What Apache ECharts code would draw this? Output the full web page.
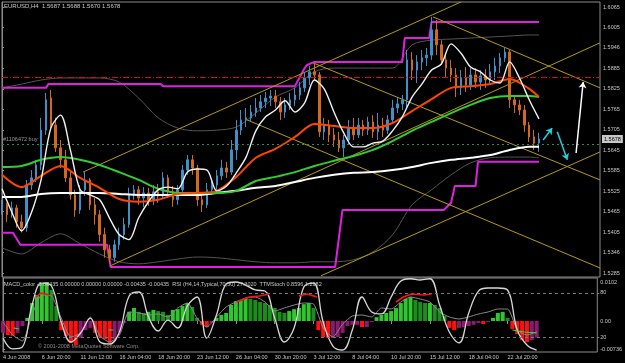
<!DOCTYPE html>
<html>
<head>
<meta charset="utf-8">
<title>EURUSD,H4</title>
<script src="https://cdn.jsdelivr.net/npm/echarts@6.0.0/dist/echarts.min.js"></script>
<style>
  html, body { margin: 0; padding: 0; background: #000; }
  #chart { width: 625px; height: 363px; }
</style>
</head>
<body>
<div id="chart"></div>
<script>
// one candle every 2 H4 bars, x = bar number from 4 Jun 2008 00:00
const opens = [1.5470,1.5485,1.5456,1.5476,1.5435,1.5418,1.5543,1.5564,1.5602,1.5704,
  1.5798,1.5719,1.5652,1.5617,1.5564,1.5514,1.5470,1.5529,1.5558,1.5485,
  1.5456,1.5398,1.5353,1.5330,1.5368,1.5398,1.5427,1.5514,1.5529,1.5505,
  1.5520,1.5500,1.5523,1.5511,1.5564,1.5523,1.5500,1.5529,1.5587,1.5617,
  1.5593,1.5500,1.5485,1.5529,1.5543,1.5570,1.5593,1.5581,1.5646,1.5704,
  1.5734,1.5740,1.5757,1.5769,1.5787,1.5798,1.5804,1.5787,1.5757,1.5778,
  1.5793,1.5807,1.5828,1.5857,1.5875,1.5866,1.5699,1.5719,1.5690,1.5675,
  1.5652,1.5675,1.5710,1.5690,1.5719,1.5704,1.5728,1.5699,1.5719,1.5704,
  1.5734,1.5769,1.5781,1.5793,1.5910,1.5880,1.5904,1.5916,1.5924,1.5998,
  1.5954,1.5910,1.5886,1.5866,1.5828,1.5857,1.5836,1.5866,1.5845,1.5863,
  1.5851,1.5875,1.5892,1.5916,1.5933,1.5793,1.5778,1.5763,1.5719,1.5684,1.5666];
const closes = [1.5485,1.5456,1.5476,1.5435,1.5418,1.5543,1.5564,1.5602,1.5704,1.5793,
  1.5719,1.5652,1.5617,1.5564,1.5514,1.5470,1.5529,1.5558,1.5485,1.5456,
  1.5398,1.5353,1.5330,1.5368,1.5398,1.5427,1.5514,1.5529,1.5505,1.5520,
  1.5500,1.5523,1.5511,1.5564,1.5523,1.5500,1.5529,1.5587,1.5617,1.5593,
  1.5500,1.5485,1.5529,1.5543,1.5570,1.5593,1.5581,1.5646,1.5704,1.5734,
  1.5740,1.5757,1.5769,1.5787,1.5798,1.5804,1.5787,1.5757,1.5778,1.5793,
  1.5807,1.5828,1.5857,1.5875,1.5866,1.5699,1.5719,1.5690,1.5675,1.5652,
  1.5675,1.5710,1.5690,1.5719,1.5704,1.5728,1.5699,1.5719,1.5704,1.5734,
  1.5769,1.5781,1.5793,1.5910,1.5880,1.5904,1.5916,1.5924,1.5998,1.5954,
  1.5910,1.5886,1.5866,1.5828,1.5857,1.5836,1.5866,1.5845,1.5863,1.5851,
  1.5875,1.5892,1.5916,1.5933,1.5793,1.5778,1.5763,1.5719,1.5684,1.5666,1.5678];
const lows = [1.5456,1.5435,1.5447,1.5418,1.5404,1.5406,1.5529,1.5552,1.5587,1.5690,
  1.5710,1.5640,1.5593,1.5552,1.5500,1.5450,1.5459,1.5511,1.5470,1.5427,
  1.5377,1.5330,1.5312,1.5318,1.5353,1.5383,1.5418,1.5500,1.5485,1.5479,
  1.5482,1.5485,1.5491,1.5505,1.5505,1.5479,1.5485,1.5517,1.5573,1.5573,
  1.5482,1.5464,1.5476,1.5514,1.5529,1.5558,1.5564,1.5573,1.5617,1.5690,
  1.5713,1.5728,1.5743,1.5757,1.5769,1.5775,1.5769,1.5734,1.5740,1.5763,
  1.5775,1.5793,1.5816,1.5836,1.5851,1.5684,1.5675,1.5669,1.5655,1.5640,
  1.5625,1.5660,1.5675,1.5681,1.5687,1.5690,1.5681,1.5675,1.5684,1.5693,
  1.5722,1.5754,1.5763,1.5772,1.5851,1.5842,1.5880,1.5892,1.5910,1.5924,
  1.5895,1.5860,1.5845,1.5801,1.5807,1.5816,1.5822,1.5828,1.5822,1.5828,
  1.5836,1.5851,1.5872,1.5904,1.5769,1.5754,1.5748,1.5699,1.5669,1.5646,1.5640];
const highs = [1.5500,1.5491,1.5494,1.5485,1.5456,1.5558,1.5587,1.5617,1.5740,1.5813,
  1.5822,1.5740,1.5675,1.5646,1.5581,1.5529,1.5543,1.5581,1.5564,1.5505,
  1.5470,1.5418,1.5368,1.5383,1.5418,1.5447,1.5535,1.5543,1.5540,1.5537,
  1.5535,1.5543,1.5546,1.5581,1.5573,1.5540,1.5543,1.5602,1.5631,1.5631,
  1.5602,1.5514,1.5549,1.5558,1.5587,1.5617,1.5611,1.5675,1.5734,1.5763,
  1.5769,1.5778,1.5798,1.5807,1.5816,1.5822,1.5822,1.5801,1.5798,1.5813,
  1.5828,1.5845,1.5875,1.5892,1.5901,1.5875,1.5740,1.5734,1.5710,1.5699,
  1.5690,1.5734,1.5740,1.5740,1.5734,1.5743,1.5748,1.5754,1.5740,1.5748,
  1.5793,1.5801,1.5807,1.5939,1.5933,1.5924,1.5939,1.5945,1.6036,1.6027,
  1.5968,1.5930,1.5910,1.5886,1.5880,1.5889,1.5886,1.5886,1.5880,1.5883,
  1.5898,1.5916,1.5930,1.5945,1.5939,1.5807,1.5793,1.5778,1.5728,1.5704,1.5696];
const candleStep = 2;

// moving averages / bands sampled on these bars
const slowBars = [0,8,16,24,32,40,48,56,64,72,80,88,96,104,112,120,128,136,144,152,160,168,176,184,192,200,208,216,220];
const maRed = [1.5573,1.5537,1.5570,1.5599,1.5564,1.5535,1.5502,1.5494,1.5500,1.5517,1.5520,1.5526,1.5567,1.5623,1.5649,
  1.5684,1.5722,1.5716,1.5710,1.5710,1.5725,1.5760,1.5795,1.5828,1.5833,1.5839,1.5854,1.5825,1.5801];
const maGreen = [1.5596,1.5599,1.5617,1.5625,1.5617,1.5602,1.5581,1.5558,1.5532,1.5520,1.5520,1.5520,1.5526,1.5555,1.5567,
  1.5581,1.5599,1.5614,1.5628,1.5646,1.5672,1.5702,1.5728,1.5754,1.5778,1.5798,1.5804,1.5804,1.5801];
const maWhite = [1.5508,1.5508,1.5517,1.5520,1.5520,1.5520,1.5517,1.5514,1.5514,1.5514,1.5514,1.5520,1.5526,1.5535,1.5540,
  1.5552,1.5564,1.5573,1.5579,1.5581,1.5587,1.5596,1.5608,1.5617,1.5623,1.5631,1.5646,1.5655,1.5655];
const bandUpper = [1.5828,1.5839,1.5851,1.5857,1.5857,1.5857,1.5845,1.5798,1.5740,1.5710,1.5702,1.5704,1.5713,1.5754,1.5801,
  1.5828,1.5875,1.5886,1.5886,1.5886,1.5886,1.5954,1.5968,1.5971,1.5974,1.5977,1.5980,1.5983,1.5983];
const bandLower = [1.5359,1.5341,1.5374,1.5400,1.5371,1.5341,1.5318,1.5312,1.5318,1.5326,1.5332,1.5330,1.5324,1.5318,1.5315,
  1.5315,1.5318,1.5318,1.5324,1.5347,1.5397,1.5485,1.5529,1.5573,1.5608,1.5623,1.5625,1.5625,1.5623];

// fast line, oscillators: one value every 4 bars
const fastStep = 4;
const fastLine = [1.5532,1.5464,1.5409,1.5461,1.5558,1.5710,1.5748,1.5646,1.5529,1.5514,
  1.5500,1.5447,1.5398,1.5383,1.5447,1.5494,1.5529,1.5537,1.5532,1.5581,
  1.5590,1.5587,1.5526,1.5540,1.5579,1.5625,1.5702,1.5743,1.5763,1.5790,
  1.5757,1.5784,1.5851,1.5825,1.5757,1.5696,1.5655,1.5655,1.5666,1.5672,
  1.5702,1.5743,1.5801,1.5839,1.5880,1.5898,1.5957,1.5930,1.5889,1.5875,
  1.5851,1.5842,1.5904,1.5857,1.5793,1.5737];

// price channel (step lines), [bar, price]
const channelUpper = [[0,1.5828],[18,1.5828],[19,1.5839],[65,1.5839],[66,1.5833],[120,1.5833],[124,1.5886],[125,1.5895],
  [128,1.5904],[164,1.5904],[165,1.5974],[175,1.5974],[176,1.6021],[220,1.6021]];
const channelLower = [[0,1.5403],[4.5,1.5403],[7.5,1.5368],[43,1.5368],[44.5,1.5303],[136.5,1.5303],[139.5,1.5470],
  [181,1.5470],[184,1.5491],[185.5,1.5540],[194,1.5540],[195,1.5611],[220,1.5611]];

// trend lines: [bar1, price1, bar2, price2]
const trendLines = [
  [33.2, 1.5581, 188.1, 1.6080],
  [44.3, 1.5306, 245, 1.5960],
  [127.5, 1.5901, 245, 1.5558],
  [176.6, 1.6036, 245, 1.5828],
  [100.4, 1.5734, 245, 1.5300],
  [130.7, 1.5277, 245, 1.5640]
];
const cyanArrows = [[221.7, 1.5675, 225.4, 1.5710], [227.5, 1.5699, 231.6, 1.5617]];
const whiteArrow = [235.2, 1.5637, 238.1, 1.5845];

const redLevel = 1.5860;
const orderLevel = 1.5664;
const lastClose = 1.5678;

const macd = [-0.0031,-0.0037,-0.0039,-0.0031,-0.0013,0.0008,0.0047,0.0068,0.0097,0.0102,
  0.0081,0.0039,-0.0024,-0.0039,-0.0058,-0.0063,-0.0044,-0.0024,-0.0018,-0.0031,
  -0.0042,-0.0047,-0.0058,-0.0047,-0.0029,-0.0005,0.0024,0.0034,0.0024,0.0021,
  0.0024,0.0029,0.0026,0.0024,0.0016,0.0029,0.0031,0.0039,0.0047,0.0037,
  0.0008,-0.0010,-0.0016,-0.0005,0.0008,0.0016,0.0021,0.0042,0.0052,0.0055,
  0.0060,0.0058,0.0055,0.0050,0.0047,0.0042,0.0034,0.0024,0.0021,0.0026,
  0.0031,0.0034,0.0044,0.0047,0.0034,-0.0024,-0.0042,-0.0044,-0.0044,-0.0042,
  -0.0031,-0.0013,-0.0010,-0.0010,-0.0016,-0.0016,-0.0003,0.0010,0.0016,0.0021,
  0.0026,0.0034,0.0047,0.0058,0.0063,0.0055,0.0050,0.0047,0.0047,0.0042,
  0.0034,0.0013,-0.0018,-0.0024,-0.0018,-0.0016,-0.0013,-0.0010,-0.0005,-0.0008,
  -0.0003,0.0008,0.0021,0.0024,0.0008,-0.0021,-0.0034,-0.0050,-0.0055,-0.0050,-0.00435];
const ttmStoch = [18.9,4.1,6.8,63.5,93.2,89.2,40.5,13.5,25.7,45.9,
  13.5,10.8,27.0,75.7,81.1,47.3,28.4,43.2,32.4,62.2,
  74.3,18.9,50.0,91.9,94.6,90.5,83.8,82.4,45.9,13.5,
  32.4,87.8,93.2,40.5,8.1,2.7,29.7,74.3,54.1,51.4,
  74.3,95.9,99,97.3,99,63.5,27.0,12.2,52.7,82.4,
  86.5,86.5,83.8,29.7,9.5,2.7];
const rsi = [40.5,23.0,14.9,50.0,77.0,75.7,45.9,20.3,25.7,47.3,
  21.6,13.5,23.0,54.1,52.7,50.0,51.4,47.3,59.5,66.2,
  45.9,33.8,47.3,60.8,67.6,73.0,74.3,67.6,55.4,59.5,
  63.5,66.2,64.9,32.4,20.3,37.8,48.6,50.0,47.3,59.5,
  58.1,67.6,74.3,71.6,67.6,54.1,47.3,44.6,47.3,51.4,
  54.1,58.1,58.1,29.7,23.0,27.3];
const signalRed = [
  [[13.5,74.3],[15.6,79.7],[18.9,77.0]],
  [[96.3,67.6],[101.6,74.3],[105.7,75.7],[109.8,78.4]],
  [[122,75.7],[125.4,78.4],[129.5,74.3]],
  [[162,67.6],[165,74.3],[168.4,78.4],[173.4,77.0],[176.6,78.4]]
];
const signalGreen = [
  [[4.5,32.4],[6.5,31.1]],
  [[43.5,29.7],[45.5,29.7]],
  [[210,29.7],[215,27.0],[220,25.7]]
];

const priceTicks = [1.6065,1.6005,1.5946,1.5885,1.5825,1.5765,1.5705,1.5645,1.5585,1.5525,1.5465,1.5405,1.5346,1.5285];
const macdTicks = [0.0102, 0, -0.00736];
const macdTickText = ['0.0102', '0.00', '-0.00736'];
const rsiTicks = [80, 20];
const timeTickBars = [0,16,32,48,64,80,96,112,128,144,160,176,192,208];
const timeLabels = ['4 Jun 2008','6 Jun 20:00','11 Jun 12:00','16 Jun 04:00','18 Jun 20:00','23 Jun 12:00','26 Jun 04:00',
  '30 Jun 20:00','3 Jul 12:00','8 Jul 04:00','10 Jul 20:00','15 Jul 12:00','18 Jul 04:00','22 Jul 20:00'];

const txt = '#c8c8c8';
const font = 'Liberation Sans';
const frame = '#8c8c8c';

const chart = echarts.init(document.getElementById('chart'), null, { renderer: 'canvas' });

const candleData = opens.map((o, i) => [i * candleStep, o, closes[i], lows[i], highs[i]]);
const onSlow = arr => arr.map((v, i) => [slowBars[i], v]);
const onFast = arr => arr.map((v, i) => [i * fastStep, v]);

const mainLine = (data, color, width, z, smooth) => ({
  type: 'line', xAxisIndex: 0, yAxisIndex: 0, data, showSymbol: false, smooth: smooth || 0,
  lineStyle: { color, width }, z, silent: true
});

const series = [];
series.push(mainLine(onSlow(bandUpper), '#555', 1, 1, 0.3));
series.push(mainLine(onSlow(bandLower), '#555', 1, 1, 0.3));
series.push(mainLine(channelUpper, '#e020e0', 2, 2));
series.push(mainLine(channelLower, '#e020e0', 2, 2));
trendLines.forEach(t => series.push(mainLine([[t[0], t[1]], [t[2], t[3]]], '#b89a10', 1, 2)));

series.push({
  type: 'candlestick', xAxisIndex: 0, yAxisIndex: 0, data: candleData, barWidth: 2, z: 3,
  itemStyle: { color: '#3d91c8', color0: '#d2691e', borderColor: '#3d91c8', borderColor0: '#d2691e', borderWidth: 1 },
  markLine: {
    silent: true, symbol: ['none', 'none'], animation: false, precision: 4,
    data: [
      { yAxis: orderLevel, lineStyle: { color: '#2e8b57', type: [2, 3], width: 1 },
        label: { show: true, position: 'insideStartTop', formatter: '#1106472 buy', color: '#9a9a9a',
          fontSize: 5.5, fontFamily: font, distance: 1 } },
      { yAxis: redLevel, lineStyle: { color: '#cc1010', type: [6, 2, 1, 2], width: 1 }, label: { show: false } },
      { yAxis: lastClose, lineStyle: { color: 'rgba(0,0,0,0)', width: 1 },
        label: { show: true, position: 'end', formatter: lastClose.toFixed(4), backgroundColor: '#c8c8c8',
          color: '#000', padding: [1, 2], fontSize: 5.5, fontFamily: font, distance: 2 } }
    ]
  }
});

series.push(mainLine(onSlow(maWhite), '#ffffff', 2, 4, 0.3));
series.push(mainLine(onSlow(maGreen), '#32cd32', 2, 4, 0.3));
series.push(mainLine(onSlow(maRed), '#ff4500', 2, 4, 0.3));
series.push(mainLine(onFast(fastLine), '#f2f2f2', 1.4, 5, 0.3));

const arrow = (a, color) => ({
  type: 'lines', coordinateSystem: 'cartesian2d', xAxisIndex: 0, yAxisIndex: 0, z: 6,
  symbol: ['none', 'arrow'], symbolSize: [0, 6], silent: true,
  lineStyle: { color, width: 1.5, opacity: 1 },
  data: [{ coords: [[a[0], a[1]], [a[2], a[3]]] }]
});
cyanArrows.forEach(a => series.push(arrow(a, '#20d0e0')));
series.push(arrow(whiteArrow, '#ffffff'));

// MACD histogram
series.push({
  type: 'bar', xAxisIndex: 1, yAxisIndex: 1, barWidth: 4, z: 2, silent: true,
  data: macd.map((v, i) => {
    const up = i === 0 || v >= macd[i - 1];
    const color = v >= 0 ? (up ? '#2ec82e' : '#1c8c1c') : (up ? '#8a1a70' : '#ff1010');
    return { value: [i * candleStep, v], itemStyle: { color } };
  })
});

series.push({
  type: 'line', xAxisIndex: 1, yAxisIndex: 2, data: onFast(rsi), showSymbol: false, smooth: 0.2,
  lineStyle: { color: '#8a8a8a', width: 1 }, z: 3, silent: true,
  markLine: {
    silent: true, symbol: ['none', 'none'], animation: false, label: { show: false },
    lineStyle: { color: '#7a7a7a', type: [3, 3], width: 1 },
    data: rsiTicks.map(v => ({ yAxis: v }))
  }
});
series.push({
  type: 'line', xAxisIndex: 1, yAxisIndex: 2, data: onFast(ttmStoch), showSymbol: false, smooth: 0.4,
  lineStyle: { color: '#d8d8d8', width: 1.3 }, z: 4, silent: true
});
signalRed.forEach(s => series.push({
  type: 'line', xAxisIndex: 1, yAxisIndex: 2, data: s, showSymbol: false,
  lineStyle: { color: '#ff1010', width: 1.6 }, z: 5, silent: true
}));
signalGreen.forEach(s => series.push({
  type: 'line', xAxisIndex: 1, yAxisIndex: 2, data: s, showSymbol: false,
  lineStyle: { color: '#30e030', width: 1.2 }, z: 5, silent: true
}));

const labelStyle = { color: txt, fontSize: 5.5, fontFamily: font };

chart.setOption({
  animation: false,
  backgroundColor: '#000',
  title: {
    text: 'EURUSD,H4  1.5687 1.5688 1.5670 1.5678', left: 4, top: 3, padding: 0,
    textStyle: { color: txt, fontSize: 6, fontWeight: 'normal', fontFamily: font }
  },
  graphic: [
    { type: 'text', left: 4, top: 281, z: 10, style: {
      text: 'MACD_color -0.00435 0.00000 0.00000 0.00000 -0.00435 -0.00435  RSI (H4,14,Typical,70,30) 27.3020  TTMStoch 0.8596 1.2982',
      fill: txt, fontSize: 5.5, fontFamily: font } },
    { type: 'text', left: 38, top: 343, z: 0, style: {
      text: '\u00a9 2001-2008 MetaQuotes Software Corp.', fill: '#8c8c8c', fontSize: 5.5, fontFamily: font } }
  ],
  grid: [
    { left: 2, right: 25, top: 2, height: 275, show: true, borderColor: frame, borderWidth: 1 },
    { left: 2, right: 25, top: 278, height: 74, show: true, borderColor: frame, borderWidth: 1 }
  ],
  xAxis: [
    { gridIndex: 0, type: 'value', min: 0, max: 245, show: false },
    { gridIndex: 1, type: 'value', min: 0, max: 245,
      axisLine: { show: false }, splitLine: { show: false },
      axisTick: { show: true, customValues: timeTickBars, length: 3, lineStyle: { color: frame } },
      axisLabel: { customValues: timeTickBars, formatter: v => timeLabels[timeTickBars.indexOf(v)],
        align: 'left', margin: 2, ...labelStyle } }
  ],
  yAxis: [
    { gridIndex: 0, type: 'value', position: 'right', min: 1.52734, max: 1.60797,
      axisLine: { show: true, lineStyle: { color: frame } }, splitLine: { show: false },
      axisTick: { show: true, customValues: priceTicks, length: 2, lineStyle: { color: frame } },
      axisLabel: { customValues: priceTicks, formatter: v => v.toFixed(4), margin: 3, ...labelStyle } },
    { gridIndex: 1, type: 'value', position: 'right', min: -0.008107, max: 0.011246,
      axisLine: { show: true, lineStyle: { color: frame } }, splitLine: { show: false },
      axisTick: { show: true, customValues: macdTicks, length: 2, lineStyle: { color: frame } },
      axisLabel: { customValues: macdTicks, formatter: v => macdTickText[macdTicks.indexOf(v)], margin: 3, ...labelStyle } },
    { gridIndex: 1, type: 'value', position: 'right', min: 0, max: 100,
      axisLine: { show: false }, splitLine: { show: false },
      axisTick: { show: true, customValues: rsiTicks, length: 2, lineStyle: { color: frame } },
      axisLabel: { customValues: rsiTicks, margin: 3, ...labelStyle } }
  ],
  series
});
</script>
</body>
</html>
